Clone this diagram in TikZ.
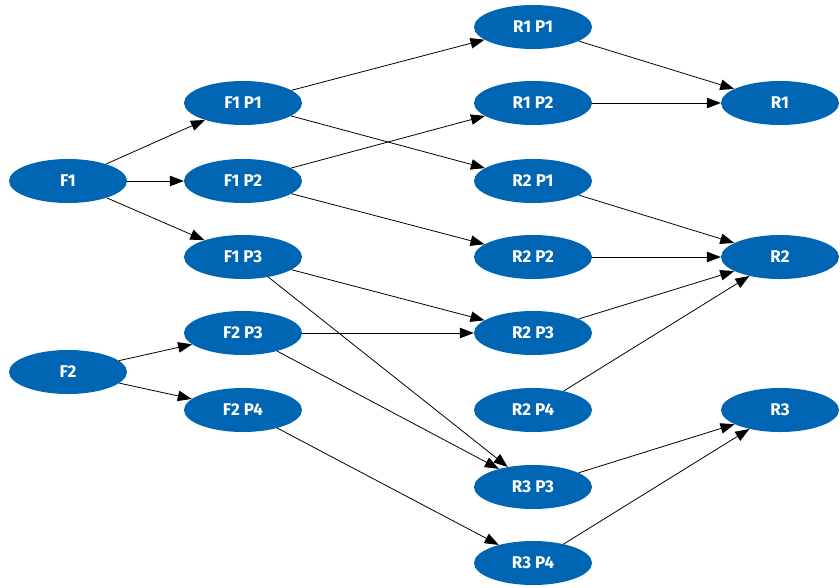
\documentclass[tikz,border=0pt]{standalone}
\usepackage{fontspec}
\setsansfont{Fira Sans}
\usepackage{tikz}
\usetikzlibrary{shapes.geometric,arrows.meta}
\definecolor{flowblue}{RGB}{0,102,179}

\begin{document}
\begin{tikzpicture}[x=1pt,y=-1pt,
    state/.style={ellipse,fill=flowblue,text=white,inner sep=0pt,
      minimum width=118pt,minimum height=44pt,
      font=\sffamily\bfseries\fontsize{17}{20}\selectfont},
    link/.style={-{Triangle[length=14pt,width=10.5pt]},line width=0.8pt}]
    \useasboundingbox (0,0) rectangle (840,587);
    % sources
    \node[state] (F1) at (68,181) {F1};
    \node[state] (F2) at (68,372) {F2};
    % first stage
    \node[state] (F1P1) at (243,103) {F1 P1};
    \node[state] (F1P2) at (243,181) {F1 P2};
    \node[state] (F1P3) at (243,257) {F1 P3};
    \node[state] (F2P3) at (243,333) {F2 P3};
    \node[state] (F2P4) at (243,410) {F2 P4};
    % second stage
    \node[state] (R1P1) at (533,27) {R1 P1};
    \node[state] (R1P2) at (533,103) {R1 P2};
    \node[state] (R2P1) at (533,181) {R2 P1};
    \node[state] (R2P2) at (533,257) {R2 P2};
    \node[state] (R2P3) at (533,333) {R2 P3};
    \node[state] (R2P4) at (533,410) {R2 P4};
    \node[state] (R3P3) at (533,487) {R3 P3};
    \node[state] (R3P4) at (533,563) {R3 P4};
    % results
    \node[state] (R1) at (780,103) {R1};
    \node[state] (R2) at (780,257) {R2};
    \node[state] (R3) at (780,410) {R3};
    \foreach \a/\b in {F1/F1P1,F1/F1P2,F1/F1P3,F2/F2P3,F2/F2P4,
        F1P1/R1P1,F1P1/R2P1,F1P2/R1P2,F1P2/R2P2,F1P3/R2P3,F1P3/R3P3,
        F2P3/R2P3,F2P3/R3P3,F2P4/R3P4,
        R1P1/R1,R1P2/R1,R2P1/R2,R2P2/R2,R2P3/R2,R2P4/R2,R3P3/R3,R3P4/R3}{
      \draw[link] (\a) -- (\b);
    }
  \end{tikzpicture}
\end{document}
